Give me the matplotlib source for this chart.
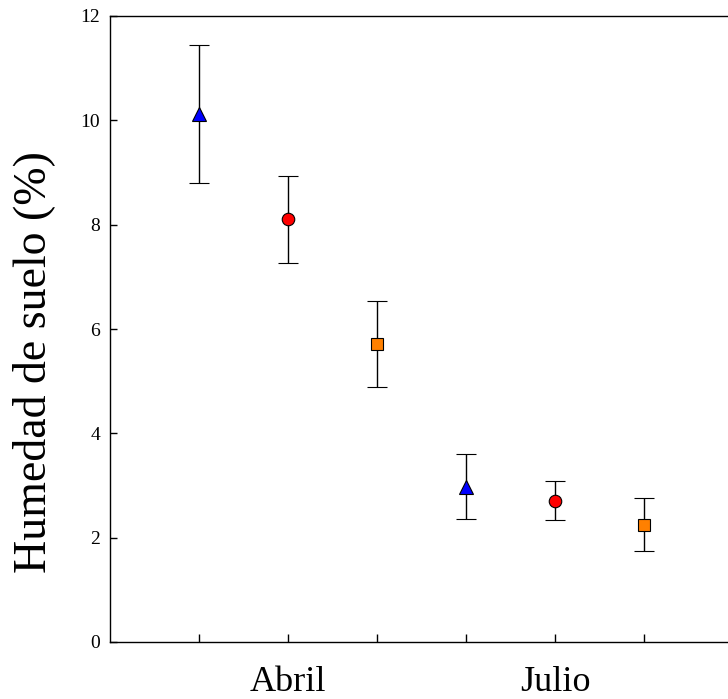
import numpy as np
import matplotlib
matplotlib.use("Agg")
import matplotlib.pyplot as plt

# soil moisture (%) by treatment, two sampling months
x_pos = [1, 2, 3, 4, 5, 6]
humedad = [10.12, 8.10, 5.71, 2.98, 2.71, 2.25]
error = [1.32, 0.83, 0.83, 0.63, 0.38, 0.51]
markers = ['^', 'o', 's', '^', 'o', 's']
colores = ['#0000ff', '#ff0000', '#ff8000', '#0000ff', '#ff0000', '#ff8000']
tick_labels = ['', 'Abril', '', '', 'Julio', '']
y_ticks = [0, 2, 4, 6, 8, 10, 12]

plt.rcParams['font.family'] = ['Liberation Serif', 'DejaVu Serif']

fig = plt.figure(figsize=(7.28, 6.99), dpi=100)
ax = fig.add_axes([110 / 728, 57 / 699, 623 / 728, 626 / 699])

sizes = {'^': 9.5, 'o': 9.0, 's': 8.3}
for xi, yi, ei, m, c in zip(x_pos, humedad, error, markers, colores):
    ax.errorbar(xi, yi, yerr=ei, fmt=m, color='black', ecolor='black',
                elinewidth=1.0, capsize=7.5, capthick=1.0,
                markerfacecolor=c, markeredgecolor='black',
                markeredgewidth=0.8, markersize=sizes[m], zorder=3)

ax.set_xlim(0, 7)
ax.set_ylim(0, 12)
ax.set_xticks(x_pos)
ax.set_xticklabels(tick_labels, fontsize=26)
ax.set_yticks(y_ticks)
ax.set_yticklabels([str(v) for v in y_ticks], fontsize=14)

ax.tick_params(axis='x', direction='in', length=6, width=1, pad=17)
ax.tick_params(axis='y', direction='in', length=5, width=1, pad=7)

ax.spines['right'].set_visible(False)
for s in ['left', 'top', 'bottom']:
    ax.spines[s].set_linewidth(1.0)

ax.set_ylabel('Humedad de suelo (%)', fontsize=33)
ax.yaxis.set_label_coords(-0.088, 0.447)

fig.savefig('out.png', dpi=100)
